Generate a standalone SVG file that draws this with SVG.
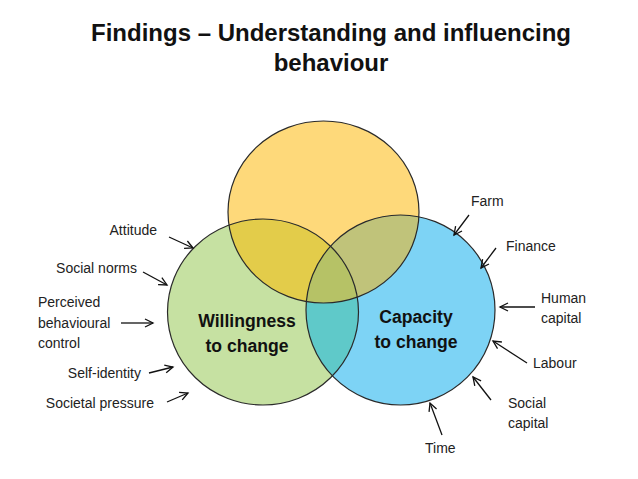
<svg xmlns="http://www.w3.org/2000/svg" width="638" height="479" viewBox="0 0 638 479">
<style>
.title{font-family:"Liberation Sans",Arial,sans-serif;font-weight:bold;font-size:24px;fill:#111;text-anchor:middle}
.lbl{font-family:"Liberation Sans",Arial,sans-serif;font-size:14px;fill:#222}
.big{font-family:"Liberation Sans",Arial,sans-serif;font-weight:bold;font-size:17.6px;fill:#111;text-anchor:middle}
.edge{stroke:#111;stroke-width:1.3;fill:none;marker-end:url(#ah)}
.ol{fill:none;stroke:#2a2a2a;stroke-width:1.2}
</style>
<defs>
<marker id="ah" markerUnits="userSpaceOnUse" markerWidth="12" markerHeight="12" refX="9" refY="5" orient="auto">
<path d="M1,1 L9,5 L1,9" fill="none" stroke="#111" stroke-width="1.3"/>
</marker>
<clipPath id="cG"><ellipse cx="263" cy="312" rx="95.5" ry="93"/></clipPath>
<clipPath id="cB"><ellipse cx="400.5" cy="310" rx="94.5" ry="95"/></clipPath>
</defs>
<text class="title" x="331" y="41">Findings – Understanding and influencing</text>
<text class="title" x="331" y="71">behaviour</text>
<g id="orange"><ellipse cx="323.5" cy="212" rx="95.5" ry="91" fill="#FED97A"/></g>
<g id="willingness">
<ellipse cx="263" cy="312" rx="95.5" ry="93" fill="#C6E1A2"/>
<text class="big" x="247" y="327">Willingness</text>
<text class="big" x="247" y="352">to change</text>
</g>
<g id="capacity">
<ellipse cx="400.5" cy="310" rx="94.5" ry="95" fill="#7DD3F5"/>
</g>
<g id="overlaps">
<ellipse clip-path="url(#cG)" cx="323.5" cy="212" rx="95.5" ry="91" fill="#E3CC4A"/>
<ellipse clip-path="url(#cB)" cx="323.5" cy="212" rx="95.5" ry="91" fill="#C0C37A"/>
<ellipse clip-path="url(#cB)" cx="263" cy="312" rx="95.5" ry="93" fill="#5FC9C9"/>
<g clip-path="url(#cG)"><ellipse clip-path="url(#cB)" cx="323.5" cy="212" rx="95.5" ry="91" fill="#B6C266"/></g>
</g>
<g id="outlines">
<ellipse class="ol" cx="323.5" cy="212" rx="95.5" ry="91"/>
<ellipse class="ol" cx="263" cy="312" rx="95.5" ry="93"/>
<ellipse class="ol" cx="400.5" cy="310" rx="94.5" ry="95"/>
</g>
<g id="capacity-label">
<text class="big" x="416" y="323">Capacity</text>
<text class="big" x="416" y="348">to change</text>
</g>
<g id="labels">
<text class="lbl" x="157" y="235" text-anchor="end">Attitude</text>
<text class="lbl" x="137" y="273" text-anchor="end">Social norms</text>
<text class="lbl" x="38" y="307">Perceived</text>
<text class="lbl" x="38" y="328">behavioural</text>
<text class="lbl" x="38" y="348">control</text>
<text class="lbl" x="141" y="378" text-anchor="end">Self-identity</text>
<text class="lbl" x="154" y="408" text-anchor="end">Societal pressure</text>
<text class="lbl" x="471" y="206">Farm</text>
<text class="lbl" x="506" y="251">Finance</text>
<text class="lbl" x="541" y="303">Human</text>
<text class="lbl" x="541" y="323">capital</text>
<text class="lbl" x="533" y="368">Labour</text>
<text class="lbl" x="508" y="408">Social</text>
<text class="lbl" x="508" y="428">capital</text>
<text class="lbl" x="425" y="453">Time</text>
</g>
<g id="connectors">
<line class="edge" x1="169" y1="237" x2="193" y2="248"/>
<line class="edge" x1="143" y1="272" x2="167" y2="285"/>
<line class="edge" x1="121" y1="323" x2="153" y2="323"/>
<line class="edge" x1="149" y1="373" x2="173" y2="367"/>
<line class="edge" x1="167" y1="402" x2="188" y2="393"/>
<line class="edge" x1="469" y1="215" x2="454" y2="235"/>
<line class="edge" x1="496" y1="248" x2="481" y2="268"/>
<line class="edge" x1="535" y1="307" x2="500" y2="307"/>
<line class="edge" x1="527" y1="363" x2="493" y2="341"/>
<line class="edge" x1="491" y1="400" x2="473" y2="377"/>
<line class="edge" x1="442" y1="435" x2="430" y2="403"/>
</g>
</svg>
